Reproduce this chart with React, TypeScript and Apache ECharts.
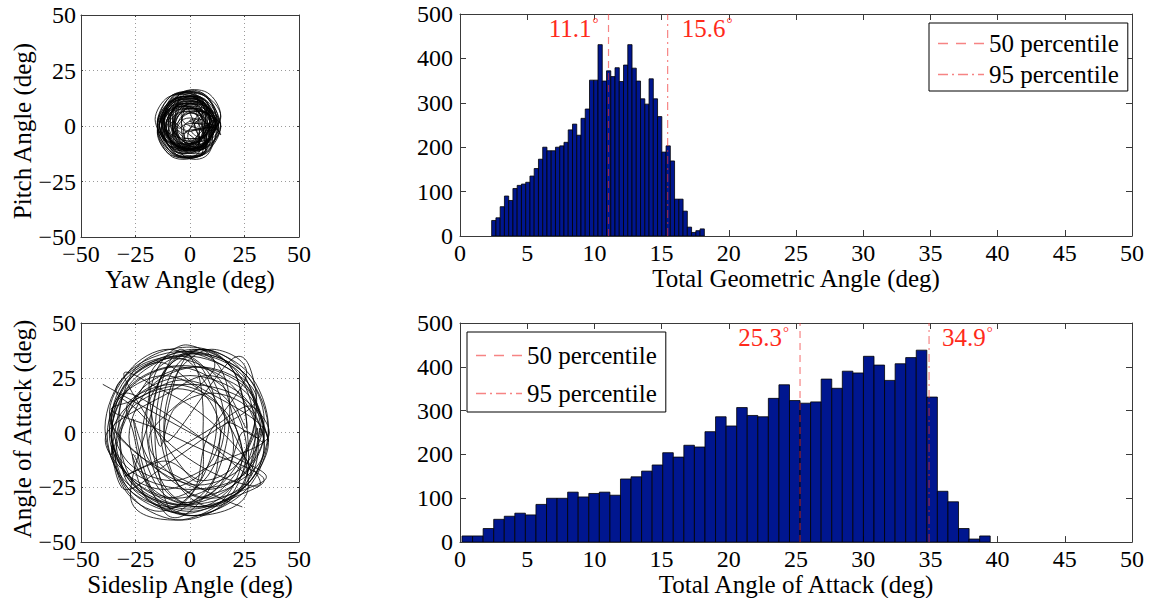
import React, { useEffect, useRef } from 'react';
import * as echarts from 'echarts';

const FONT = '"Liberation Serif", "Times New Roman", serif';

// Total geometric angle histogram (50 bins)
const GEO_BIN_START = 2.356;
const GEO_BIN_WIDTH = 0.3165;
const GEO_COUNTS = [
  35, 41, 66, 90, 80, 107, 114, 117, 121, 135,
  152, 173, 200, 192, 192, 200, 203, 211, 239, 252,
  227, 265, 286, 351, 351, 431, 349, 372, 359, 379,
  348, 385, 431, 378, 349, 309, 297, 354, 309, 269,
  189, 203, 169, 83, 83, 56, 20, 8, 12, 16,
];
const GEO_PCT = [11.05, 15.45];
const GEO_PCT_LABELS = ['11.1', '15.6'];

// Total angle of attack histogram (50 bins)
const AOA_BIN_START = 0.15;
const AOA_BIN_WIDTH = 0.786;
const AOA_COUNTS = [
  14, 14, 31, 52, 59, 66, 62, 86, 100, 100,
  114, 103, 111, 114, 107, 144, 149, 162, 176, 204,
  194, 221, 217, 252, 286, 265, 307, 289, 286, 328,
  359, 323, 317, 320, 372, 351, 390, 386, 424, 404,
  369, 407, 421, 438, 331, 116, 92, 31, 7, 14,
];
const AOA_PCT = [25.3, 34.9];
const AOA_PCT_LABELS = ['25.3', '34.9'];

const PCT_NAMES = ['50 percentile', '95 percentile'];

// Yaw vs pitch trajectory
const YAW_PITCH = [
  [12,1],[6,11],[-6,11],[-12,1],[-6,-9],[6,-9],
  [7,0],[2,8],[-7,8],[-11,0],[-7,-8],[2,-8],
  [14,3],[8,13],[-5,14],[-12,2],[-6,-9],[7,-10],
  [6,-1],[3,5],[-4,6],[-8,-1],[-5,-7],[2,-8],
  [9,2],[3,12],[-9,11],[-15,1],[-9,-9],[3,-10],
  [4,2],[2,6],[-2,6],[-4,2],[-2,-2],[2,-2],
  [12,1],[7,9],[-3,9],[-8,0],[-3,-9],[7,-8],
  [12,4],[6,14],[-6,14],[-12,3],[-6,-7],[6,-8],
  [6,-4],[3,2],[-2,1],[-3,-4],[0,-9],[5,-9],
  [10,-3],[4,6],[-6,7],[-12,-3],[-6,-13],[5,-13],
  [6,0],[3,8],[-2,8],[-4,0],[-2,-8],[4,-8],
  [8,3],[2,13],[-10,13],[-16,3],[-10,-7],[2,-7],
  [11,3],[5,13],[-8,14],[-15,2],[-9,-9],[4,-9],
  [0,6],[-3,10],[-7,8],[-8,3],[-5,-1],[-1,1],
  [11,0],[6,-10],[-5,-9],[-11,0],[-6,9],[5,10],
  [7,2],[3,-9],[-5,-9],[-9,2],[-5,14],[3,14],
  [3,5],[7,6],[9,2],[8,-3],[4,-5],[1,-2],
  [11,-1],[6,-9],[-2,-9],[-7,-1],[-3,7],[6,7],
  [11,-2],[5,-13],[-8,-14],[-15,-2],[-8,9],[4,10],
  [14,-4],[8,6],[-2,5],[-8,-4],[-2,-14],[8,-13],
  [13,1],[7,-5],[-6,-5],[-13,1],[-7,7],[6,7],
  [-2,-3],[-6,-2],[-9,-6],[-7,-11],[-2,-12],[1,-7],
  [11,3],[6,-5],[-4,-6],[-9,3],[-4,12],[6,12],
  [13,0],[6,12],[-8,12],[-15,0],[-8,-12],[6,-13],
  [6,-2],[3,3],[-3,3],[-6,-2],[-3,-7],[3,-7],
  [12,2],[7,14],[-3,15],[-8,2],[-3,-11],[7,-11],
  [2,0],[6,4],[4,9],[-1,10],[-4,6],[-2,1],
  [7,-1],[2,8],[-8,8],[-13,-1],[-8,-10],[2,-10],
  [12,-1],[5,10],[-7,11],[-12,1],[-5,-11],[7,-10],
  [9,-3],[3,7],[-9,7],[-15,-3],[-9,-13],[3,-13],
  [9,0],[5,-7],[-3,-7],[-7,0],[-3,7],[5,7],
  [12,1],[5,-10],[-8,-10],[-14,1],[-7,12],[6,12],
  [-1,-4],[3,-8],[8,-7],[9,-1],[5,3],[0,2],
  [13,-2],[7,-10],[-5,-10],[-11,-2],[-5,6],[7,6],
  [9,2],[3,-7],[-8,-7],[-13,2],[-7,12],[4,12],
  [14,1],[7,14],[-8,14],[-15,0],[-7,-13],[8,-12],
  [10,-1],[5,7],[-4,7],[-8,-1],[-4,-9],[5,-9],
  [14,4],[8,15],[-4,15],[-10,4],[-4,-6],[8,-6],
  [10,2],[4,13],[-7,14],[-12,2],[-6,-9],[5,-9],
  [-4,-1],[-8,2],[-10,-3],[-8,-8],[-3,-7],[-1,-2],
  [13,-1],[6,10],[-7,10],[-13,-1],[-6,-12],[7,-12],
  [6,0],[1,-8],[-8,-8],[-12,0],[-8,8],[1,8],
  [14,1],[8,-9],[-4,-9],[-10,1],[-4,11],[8,11],
  [13,-1],[6,-13],[-8,-13],[-15,-1],[-8,11],[6,11],
  [7,2],[3,-8],[-4,-8],[-7,2],[-4,13],[3,13],
  [12,0],[6,10],[-5,10],[-10,0],[-5,-10],[6,-10],
  [10,1],[4,12],[-8,12],[-14,1],[-8,-9],[4,-10],
  [14,0],[7,9],[-7,9],[-14,0],[-7,-9],[7,-9],
  [9,2],[5,9],[-3,9],[-7,2],[-3,-5],[5,-5],
  [12,0],[5,-11],[-7,-11],[-14,0],[-7,11],[5,12],
  [12,-2],[6,-12],[-6,-13],[-12,-2],[-6,8],[6,8],
  [12,1],[7,-8],[-3,-8],[-8,1],[-3,10],[7,10],
  [9,-1],[3,9],[-8,9],[-13,-1],[-8,-11],[3,-11],
  [13,2],[6,14],[-7,14],[-13,2],[-6,-9],[7,-9],
  [8,-1],[4,5],[-3,5],[-6,-1],[-3,-7],[4,-7],
  [11,1],[5,-9],[-7,-9],[-13,1],[-7,11],[5,11],
  [14,0],[7,-12],[-7,-13],[-14,0],[-7,12],[7,12],
  [9,0],[4,9],[-6,9],[-11,0],[-6,-9],[4,-9],
];

// Sideslip vs angle of attack trajectory
const SIDESLIP_AOA = [
  [-40,22],[-20,11],[0,0],[20,-11],[35,-20],
  [23,-27],[-2,-37],[-27,-27],[-38,-1],[-27,25],[-2,35],[23,25],[34,-1],
  [20,-24],[4,-34],[-12,-24],[-18,2],[-12,28],[4,38],[20,28],[26,2],
  [15,21],[-6,30],[-27,21],[-36,0],[-27,-21],[-6,-30],[15,-21],[24,0],
  [34,-4],[24,17],[0,26],[-24,17],[-34,-4],[-24,-25],[0,-34],[24,-25],
  [26,4],[20,28],[6,38],[-8,28],[-14,4],[-8,-20],[6,-30],[20,-20],
  [31,2],[21,-23],[-4,-33],[-29,-23],[-39,2],[-29,27],[-4,37],[21,27],
  [30,14],[10,0],[-10,-14],[-30,-26],
  [-36,-6],[-28,-26],[-8,-34],[12,-26],[20,-6],[12,14],[-8,22],[-28,14],
  [-26,0],[-18,-27],[2,-38],[22,-27],[30,0],[22,27],[2,38],[-18,27],
  [-14,-6],[-7,11],[10,18],[27,11],[34,-6],[27,-23],[10,-30],[-7,-23],
  [-36,4],[-28,28],[-10,38],[8,28],[16,4],[8,-20],[-10,-30],[-28,-20],
  [-37,0],[-26,26],[0,37],[26,26],[36,0],[26,-26],[0,-38],[-26,-26],
  [-32,-8],[-30,18],[-10,30],[14,26],[30,4],[28,-20],[8,-32],[-16,-28],
  [-26,6],[-17,-15],[4,-24],[25,-15],[34,6],[25,27],[4,36],[-17,27],
  [-34,-8],[-25,-31],[-4,-40],[17,-31],[26,-8],[17,15],[-4,24],[-25,15],
  [-36,10],[-16,2],[6,-8],[26,-16],[34,-22],
  [24,-28],[4,-34],[-18,-25],[-28,-2],[-18,21],[4,30],[26,21],[32,-2],
  [16,4],[11,-21],[-2,-32],[-15,-21],[-20,4],[-15,29],[-2,40],[11,29],
  [-18,0],[-10,-18],[8,-26],[26,-18],[34,0],[26,18],[8,26],[-10,18],
  [-38,0],[-30,-18],[-12,-26],[6,-18],[14,0],[6,18],[-12,26],[-30,18],
  [-37,2],[-26,-24],[0,-35],[26,-24],[36,2],[26,28],[0,39],[-26,28],
  [-36,-10],[-27,11],[-6,20],[15,11],[24,-10],[15,-31],[-6,-40],[-27,-31],
  [-18,8],[-11,29],[6,38],[23,29],[30,8],[23,-13],[6,-22],[-11,-13],
  [-30,-20],[-10,-10],[10,2],[28,12],
  [36,-4],[26,20],[2,30],[-22,20],[-32,-4],[-22,-28],[2,-38],[26,-28],
  [20,6],[12,26],[-8,34],[-28,26],[-36,6],[-28,-14],[-8,-22],[12,-14],
  [36,-2],[25,15],[0,22],[-25,15],[-36,-2],[-25,-19],[0,-26],[25,-19],
  [32,2],[26,-23],[10,-34],[-6,-23],[-12,2],[-6,27],[10,38],[26,27],
  [8,-2],[2,-26],[-14,-36],[-30,-26],[-36,-2],[-30,22],[-14,32],[2,22],
  [35,0],[25,-25],[0,-36],[-25,-25],[-36,0],[-25,25],[0,36],[25,25],
  [34,-8],[20,-24],[4,-30],
  [-8,-36],[-14,-20],[-16,2],[-12,26],[-4,38],[4,26],[6,2],[2,-22],
  [-30,25],[-14,20],[6,8],[24,-10],[32,-24],[14,-20],[-6,-8],[-24,10],
  [-34,20],[-20,32],[0,34],[10,20],[12,0],[6,-20],[-6,-34],[-20,-30],[-26,-10],
  [-10,-38],[6,-30],[16,-8],[18,16],[12,32],[0,36],[-8,20],[-10,-4],
  [20,34],[30,20],[28,-2],[16,-22],[0,-32],[-14,-26],[-22,-4],[-16,20],[0,32],
  [28,-18],[10,-6],[-10,8],[-30,18],[-36,4],[-24,-10],[-6,-20],[14,-30],[24,-34],
];

const TEXT = { fontFamily: FONT, fontSize: 24, color: '#000' };
const TITLE = { fontFamily: FONT, fontSize: 25, color: '#000' };
const AXIS_LINE = { color: '#3a3a3a', width: 1 };
const PCT_COLOR = 'rgba(240,50,50,0.6)';
const LABEL_RED = '#ff2a1a';
const DASH_ICON = 'path://M0,0h10v1.5h-10zM18,0h10v1.5h-10zM36,0h10v1.5h-10z';
const DASHDOT_ICON = 'path://M0,0h10v1.5h-10zM14,0h2v1.5h-2zM20,0h10v1.5h-10zM34,0h2v1.5h-2zM40,0h6v1.5h-6z';
const neg = (v: number) => String(v).replace('-', '\u2212');

function histData(start: number, width: number, counts: number[]) {
  return counts.map((c, i) => [start + i * width, start + (i + 1) * width, c]);
}

function barRender(params: any, api: any) {
  const p0 = api.coord([api.value(0), api.value(2)]);
  const p1 = api.coord([api.value(1), 0]);
  return {
    type: 'rect',
    shape: { x: p0[0], y: p0[1], width: p1[0] - p0[0], height: p1[1] - p0[1] },
    style: { fill: '#00168f', stroke: '#000', lineWidth: 0.8 },
  };
}

// Smooth trajectory: one Catmull-Rom segment per data point, in pixel space of the axes.
function trajRender(points: number[][]) {
  return (params: any, api: any) => {
    const n = points.length;
    const i = params.dataIndex;
    if (i >= n - 1) return { type: 'group', children: [] };
    const c = (k: number) => api.coord(points[Math.max(0, Math.min(n - 1, k))]);
    const p0 = c(i - 1), p1 = c(i), p2 = c(i + 1), p3 = c(i + 2);
    return {
      type: 'bezierCurve',
      shape: {
        x1: p1[0], y1: p1[1], x2: p2[0], y2: p2[1],
        cpx1: p1[0] + (p2[0] - p0[0]) / 6, cpy1: p1[1] + (p2[1] - p0[1]) / 6,
        cpx2: p2[0] - (p3[0] - p1[0]) / 6, cpy2: p2[1] - (p3[1] - p1[1]) / 6,
      },
      style: { stroke: '#000', lineWidth: 0.8, fill: null },
    };
  };
}

function xAxisDef(gridIndex: number, min: number, max: number, interval: number, name: string, tickLen: number, grid: boolean) {
  return {
    gridIndex, type: 'value', min, max, interval, position: 'bottom',
    name, nameLocation: 'middle', nameGap: 27, nameTextStyle: TITLE,
    axisLine: { show: true, onZero: false, lineStyle: AXIS_LINE },
    axisTick: { show: true, inside: true, length: tickLen, lineStyle: AXIS_LINE },
    axisLabel: { ...TEXT, margin: 5, formatter: neg },
    splitLine: { show: grid, lineStyle: { type: [1, 3], color: '#9a9a9a', width: 1 } },
  };
}
function yAxisDef(gridIndex: number, min: number, max: number, interval: number, tickLen: number, grid: boolean, margin: number) {
  return {
    gridIndex, type: 'value', min, max, interval, position: 'left',
    axisLine: { show: true, onZero: false, lineStyle: AXIS_LINE },
    axisTick: { show: true, inside: true, length: tickLen, lineStyle: AXIS_LINE },
    axisLabel: { ...TEXT, margin, formatter: neg },
    splitLine: { show: grid, lineStyle: { type: [1, 3], color: '#9a9a9a', width: 1 } },
  };
}
function mirror(gridIndex: number, min: number, max: number, interval: number, tickLen: number, position: string) {
  return {
    gridIndex, type: 'value', min, max, interval, position,
    axisLine: { show: true, onZero: false, lineStyle: AXIS_LINE },
    axisTick: { show: true, inside: true, length: tickLen, lineStyle: AXIS_LINE },
    axisLabel: { show: false },
    splitLine: { show: false },
  };
}

function pctSeries(name: string, idx: number, value: number, dash: number[]) {
  return {
    type: 'line', name, xAxisIndex: idx, yAxisIndex: idx,
    data: [[value, 0], [value, 500]], symbol: 'none', silent: true,
    lineStyle: { color: PCT_COLOR, width: 1.2, type: dash },
    itemStyle: { color: PCT_COLOR },
    z: 5,
  };
}

const legendBase = {
  data: [
    { name: PCT_NAMES[0], icon: DASH_ICON },
    { name: PCT_NAMES[1], icon: DASHDOT_ICON },
  ],
  orient: 'vertical', itemWidth: 46, itemHeight: 2,
  borderColor: '#000', borderWidth: 1, backgroundColor: '#fff',
  textStyle: { ...TITLE, lineHeight: 24 }, selectedMode: false, z: 10,
};

export default function App() {
  const ref = useRef<HTMLDivElement>(null);
  useEffect(() => {
    if (!ref.current) return;
    const chart = echarts.init(ref.current, undefined, { renderer: 'svg' });
    const DASH = [7, 5];
    const DASHDOT = [8, 4, 2, 4];
    chart.setOption({
      animation: false,
      grid: [
        { left: 81, top: 15, width: 218, height: 222 },
        { left: 460, top: 14, width: 672, height: 222 },
        { left: 81, top: 323, width: 218, height: 219 },
        { left: 460, top: 323, width: 672, height: 220 },
      ],
      xAxis: [
        xAxisDef(0, -50, 50, 25, 'Yaw Angle (deg)', 2, true),
        xAxisDef(1, 0, 50, 5, 'Total Geometric Angle (deg)', 6, false),
        xAxisDef(2, -50, 50, 25, 'Sideslip Angle (deg)', 2, true),
        xAxisDef(3, 0, 50, 5, 'Total Angle of Attack (deg)', 6, false),
        mirror(0, -50, 50, 25, 2, 'top'),
        mirror(1, 0, 50, 5, 6, 'top'),
        mirror(2, -50, 50, 25, 2, 'top'),
        mirror(3, 0, 50, 5, 6, 'top'),
      ],
      yAxis: [
        yAxisDef(0, -50, 50, 25, 2, true, 5),
        yAxisDef(1, 0, 500, 100, 6, false, 7),
        yAxisDef(2, -50, 50, 25, 2, true, 5),
        yAxisDef(3, 0, 500, 100, 6, false, 7),
        mirror(0, -50, 50, 25, 2, 'right'),
        mirror(1, 0, 500, 100, 6, 'right'),
        mirror(2, -50, 50, 25, 2, 'right'),
        mirror(3, 0, 500, 100, 6, 'right'),
      ],
      legend: [
        { ...legendBase, left: 929, top: 23, padding: [8, 9, 4, 9], itemGap: 6 },
        { ...legendBase, left: 467, top: 332, padding: [11, 9, 6, 9], itemGap: 13 },
      ],
      series: [
        { type: 'custom', xAxisIndex: 0, yAxisIndex: 0, data: YAW_PITCH, renderItem: trajRender(YAW_PITCH),
          encode: { x: 0, y: 1 }, silent: true, clip: true },
        { type: 'custom', xAxisIndex: 2, yAxisIndex: 2, data: SIDESLIP_AOA, renderItem: trajRender(SIDESLIP_AOA),
          encode: { x: 0, y: 1 }, silent: true, clip: true },
        { type: 'custom', xAxisIndex: 1, yAxisIndex: 1, data: histData(GEO_BIN_START, GEO_BIN_WIDTH, GEO_COUNTS),
          renderItem: barRender, encode: { x: [0, 1], y: 2 }, silent: true, clip: true },
        { type: 'custom', xAxisIndex: 3, yAxisIndex: 3, data: histData(AOA_BIN_START, AOA_BIN_WIDTH, AOA_COUNTS),
          renderItem: barRender, encode: { x: [0, 1], y: 2 }, silent: true, clip: true },
        pctSeries(PCT_NAMES[0], 1, GEO_PCT[0], DASH),
        pctSeries(PCT_NAMES[1], 1, GEO_PCT[1], DASHDOT),
        pctSeries(PCT_NAMES[0], 3, AOA_PCT[0], DASH),
        pctSeries(PCT_NAMES[1], 3, AOA_PCT[1], DASHDOT),
      ],
    });

    const labelEl = (idx: number, value: number, text: string, side: 'left' | 'right', dx: number, dy: number) => {
      const p = chart.convertToPixel({ xAxisIndex: idx, yAxisIndex: idx }, [value, 500]) as number[];
      return {
        type: 'text', z: 20,
        x: side === 'left' ? p[0] - dx : p[0] + dx,
        y: p[1] + dy,
        style: {
          text: `${text}{d|°}`, fill: LABEL_RED, font: `25px ${FONT}`,
          align: side === 'left' ? 'right' : 'left', verticalAlign: 'middle',
          rich: { d: { fontSize: 15, fontFamily: FONT, fill: LABEL_RED, verticalAlign: 'top', padding: [0, 0, 0, 1] } },
        },
      };
    };
    const yName = (text: string, x: number, y: number) => ({
      type: 'text', z: 20, x, y, rotation: Math.PI / 2,
      style: { text, fill: '#000', font: `25px ${FONT}`, align: 'center', verticalAlign: 'middle' },
    });
    chart.setOption({
      graphic: [
        labelEl(1, GEO_PCT[0], GEO_PCT_LABELS[0], 'left', 10, 14),
        labelEl(1, GEO_PCT[1], GEO_PCT_LABELS[1], 'right', 14, 14),
        labelEl(3, AOA_PCT[0], AOA_PCT_LABELS[0], 'left', 11, 14),
        labelEl(3, AOA_PCT[1], AOA_PCT_LABELS[1], 'right', 13, 14),
        yName('Pitch Angle (deg)', 22, 131),
        yName('Angle of Attack (deg)', 22, 429),
      ],
    });
    return () => chart.dispose();
  }, []);
  return <div ref={ref} style={{ position: 'absolute', left: 0, top: 0, width: 1151, height: 598 }} />;
}
